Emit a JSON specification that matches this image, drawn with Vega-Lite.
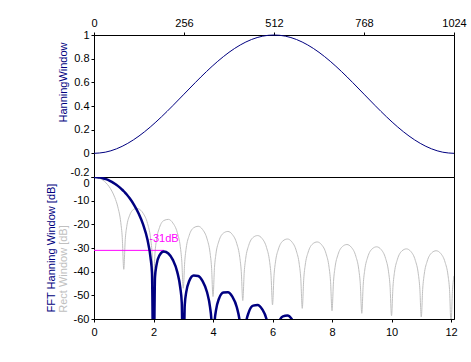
{
  "$schema": "https://vega.github.io/schema/vega-lite/v6.json",
  "padding": {"left": 44, "top": 16, "right": 5, "bottom": 5},
  "background": "white",
  "bounds": "flush",
  "spacing": 0,
  "config": {
    "locale": {"number": {"decimal": ".", "thousands": ",", "grouping": [3], "currency": ["$", ""], "minus": "-"}},
    "view": {"stroke": "black", "strokeWidth": 1},
    "axis": {"grid": false, "domainColor": "black", "tickColor": "black", "tickSize": 3, "labelColor": "black", "labelFont": "Liberation Sans", "labelFontSize": 11, "titleFont": "Liberation Sans", "titleFontSize": 11, "titleFontWeight": "normal", "labelPadding": 2}
  },
  "datasets": {
    "win": [
      {"n": 0, "w": 0}, {"n": 32, "w": 0.0096}, {"n": 64, "w": 0.0381}, {"n": 96, "w": 0.0843},
      {"n": 128, "w": 0.1464}, {"n": 160, "w": 0.2222}, {"n": 192, "w": 0.3087}, {"n": 224, "w": 0.4025},
      {"n": 256, "w": 0.5}, {"n": 288, "w": 0.5975}, {"n": 320, "w": 0.6913}, {"n": 352, "w": 0.7778},
      {"n": 384, "w": 0.8536}, {"n": 416, "w": 0.9157}, {"n": 448, "w": 0.9619}, {"n": 480, "w": 0.9904},
      {"n": 512, "w": 1}, {"n": 544, "w": 0.9904}, {"n": 576, "w": 0.9619}, {"n": 608, "w": 0.9157},
      {"n": 640, "w": 0.8536}, {"n": 672, "w": 0.7778}, {"n": 704, "w": 0.6913}, {"n": 736, "w": 0.5975},
      {"n": 768, "w": 0.5}, {"n": 800, "w": 0.4025}, {"n": 832, "w": 0.3087}, {"n": 864, "w": 0.2222},
      {"n": 896, "w": 0.1464}, {"n": 928, "w": 0.0843}, {"n": 960, "w": 0.0381}, {"n": 992, "w": 0.0096},
      {"n": 1024, "w": 0}
    ],
    "hann": [
      {"f": 0, "db": 0}, {"f": 0.1, "db": -0.06}, {"f": 0.2, "db": -0.22}, {"f": 0.3, "db": -0.51}, {"f": 0.4, "db": -0.91},
      {"f": 0.5, "db": -1.42}, {"f": 0.6, "db": -2.07}, {"f": 0.7, "db": -2.84}, {"f": 0.8, "db": -3.75}, {"f": 0.9, "db": -4.8},
      {"f": 0.95, "db": -5.39}, {"f": 1.0, "db": -6.02}, {"f": 1.05, "db": -6.69}, {"f": 1.1, "db": -7.41}, {"f": 1.2, "db": -9.01},
      {"f": 1.35, "db": -11.85}, {"f": 1.5, "db": -15.4}, {"f": 1.65, "db": -20.02}, {"f": 1.8, "db": -26.67}, {"f": 1.9, "db": -34.05},
      {"f": 1.95, "db": -40.8}, {"f": 2.0, "db": -90},
      {"f": 2.05, "db": -42.4}, {"f": 2.1, "db": -37.25}, {"f": 2.2, "db": -33.1}, {"f": 2.35, "db": -31.48}, {"f": 2.5, "db": -32.3},
      {"f": 2.65, "db": -35.01}, {"f": 2.8, "db": -40.2}, {"f": 2.9, "db": -46.79}, {"f": 2.95, "db": -53.18}, {"f": 3.0, "db": -90},
      {"f": 3.05, "db": -54.12}, {"f": 3.1, "db": -48.67}, {"f": 3.2, "db": -43.97}, {"f": 3.35, "db": -41.64}, {"f": 3.5, "db": -41.84},
      {"f": 3.65, "db": -44.0}, {"f": 3.8, "db": -48.72}, {"f": 3.9, "db": -55.01}, {"f": 3.95, "db": -61.28}, {"f": 4.0, "db": -90},
      {"f": 4.05, "db": -61.95}, {"f": 4.1, "db": -56.38}, {"f": 4.2, "db": -51.44}, {"f": 4.35, "db": -48.79}, {"f": 4.5, "db": -48.7},
      {"f": 4.65, "db": -50.58}, {"f": 4.8, "db": -55.04}, {"f": 4.9, "db": -61.19}, {"f": 4.95, "db": -67.37}, {"f": 5.0, "db": -90},
      {"f": 5.05, "db": -67.9}, {"f": 5.1, "db": -62.25}, {"f": 5.2, "db": -57.21}, {"f": 5.35, "db": -54.34}, {"f": 5.5, "db": -54.07},
      {"f": 5.65, "db": -55.8}, {"f": 5.8, "db": -60.11}, {"f": 5.9, "db": -66.14}, {"f": 5.95, "db": -72.27}, {"f": 6.0, "db": -90},
      {"f": 6.05, "db": -72.72}, {"f": 6.1, "db": -67.03}, {"f": 6.2, "db": -61.88}, {"f": 6.35, "db": -58.89}, {"f": 6.5, "db": -58.51},
      {"f": 6.65, "db": -60.11}, {"f": 6.8, "db": -64.32}, {"f": 6.9, "db": -70.29}, {"f": 7.0, "db": -90}
    ],
    "rect": [
      {"f": 0, "db": 0}, {"f": 0.1, "db": -0.14}, {"f": 0.2, "db": -0.58}, {"f": 0.3, "db": -1.33}, {"f": 0.4, "db": -2.42},
      {"f": 0.5, "db": -3.92}, {"f": 0.6, "db": -5.94}, {"f": 0.7, "db": -8.69}, {"f": 0.8, "db": -12.62}, {"f": 0.9, "db": -19.23},
      {"f": 0.95, "db": -25.61}, {"f": 1.0, "db": -39},
      {"f": 1.05, "db": -26.48}, {"f": 1.1, "db": -20.97}, {"f": 1.2, "db": -16.14}, {"f": 1.35, "db": -13.55}, {"f": 1.43, "db": -13.26},
      {"f": 1.5, "db": -13.46}, {"f": 1.65, "db": -15.3}, {"f": 1.8, "db": -19.66}, {"f": 1.9, "db": -25.72}, {"f": 1.95, "db": -31.85}, {"f": 2.0, "db": -45},
      {"f": 2.05, "db": -32.29}, {"f": 2.1, "db": -26.59}, {"f": 2.2, "db": -21.41}, {"f": 2.35, "db": -18.37}, {"f": 2.5, "db": -17.9},
      {"f": 2.65, "db": -19.41}, {"f": 2.8, "db": -23.5}, {"f": 2.9, "db": -29.39}, {"f": 2.95, "db": -35.45}, {"f": 3.0, "db": -47},
      {"f": 3.05, "db": -35.74}, {"f": 3.1, "db": -29.97}, {"f": 3.2, "db": -24.66}, {"f": 3.35, "db": -21.45}, {"f": 3.5, "db": -20.82},
      {"f": 3.65, "db": -22.19}, {"f": 3.8, "db": -26.15}, {"f": 3.9, "db": -31.96}, {"f": 3.95, "db": -37.99}, {"f": 4.0, "db": -50.5},
      {"f": 4.05, "db": -38.2}, {"f": 4.1, "db": -32.4}, {"f": 4.2, "db": -27.02}, {"f": 4.35, "db": -23.72}, {"f": 4.5, "db": -23.01},
      {"f": 4.65, "db": -24.29}, {"f": 4.8, "db": -28.18}, {"f": 4.9, "db": -33.95}, {"f": 4.95, "db": -39.95}, {"f": 5.0, "db": -52.2},
      {"f": 5.05, "db": -40.12}, {"f": 5.1, "db": -34.29}, {"f": 5.2, "db": -28.88}, {"f": 5.35, "db": -25.51}, {"f": 5.5, "db": -24.75},
      {"f": 5.65, "db": -25.99}, {"f": 5.8, "db": -29.83}, {"f": 5.9, "db": -35.56}, {"f": 5.95, "db": -41.54}, {"f": 6.0, "db": -54},
      {"f": 6.05, "db": -41.69}, {"f": 6.1, "db": -35.85}, {"f": 6.2, "db": -30.41}, {"f": 6.35, "db": -27.0}, {"f": 6.5, "db": -26.2},
      {"f": 6.65, "db": -27.4}, {"f": 6.8, "db": -31.21}, {"f": 6.9, "db": -36.92}, {"f": 6.95, "db": -42.89}, {"f": 7.0, "db": -55.5},
      {"f": 7.05, "db": -43.02}, {"f": 7.1, "db": -37.17}, {"f": 7.2, "db": -31.71}, {"f": 7.35, "db": -28.27}, {"f": 7.5, "db": -27.44},
      {"f": 7.65, "db": -28.62}, {"f": 7.8, "db": -32.4}, {"f": 7.9, "db": -38.1}, {"f": 7.95, "db": -44.06}, {"f": 8.0, "db": -56.5},
      {"f": 8.05, "db": -44.17}, {"f": 8.1, "db": -38.31}, {"f": 8.2, "db": -32.83}, {"f": 8.35, "db": -29.38}, {"f": 8.5, "db": -28.53},
      {"f": 8.65, "db": -29.69}, {"f": 8.8, "db": -33.45}, {"f": 8.9, "db": -39.13}, {"f": 8.95, "db": -45.09}, {"f": 9.0, "db": -57.6},
      {"f": 9.05, "db": -45.19}, {"f": 9.1, "db": -39.32}, {"f": 9.2, "db": -33.83}, {"f": 9.35, "db": -30.36}, {"f": 9.5, "db": -29.5},
      {"f": 9.65, "db": -30.64}, {"f": 9.8, "db": -34.38}, {"f": 9.9, "db": -40.06}, {"f": 9.95, "db": -46.01}, {"f": 10.0, "db": -58.6},
      {"f": 10.05, "db": -46.1}, {"f": 10.1, "db": -40.23}, {"f": 10.2, "db": -34.73}, {"f": 10.35, "db": -31.24}, {"f": 10.5, "db": -30.37},
      {"f": 10.65, "db": -31.49}, {"f": 10.8, "db": -35.23}, {"f": 10.9, "db": -40.89}, {"f": 10.95, "db": -46.84}, {"f": 11.0, "db": -59.1},
      {"f": 11.05, "db": -46.92}, {"f": 11.1, "db": -41.05}, {"f": 11.2, "db": -35.54}, {"f": 11.35, "db": -32.05}, {"f": 11.5, "db": -31.16},
      {"f": 11.65, "db": -32.27}, {"f": 11.8, "db": -36.0}, {"f": 11.9, "db": -41.65}, {"f": 11.95, "db": -47.6}, {"f": 12.0, "db": -62},
      {"f": 12.05, "db": -47.67}, {"f": 12.1, "db": -41.8}
    ],
    "ref": [
      {"f0": 0, "f1": 2.35, "db": -31, "label": "-31dB"}
    ]
  },
  "vconcat": [
    {
      "width": 360,
      "height": 142,
      "data": {"name": "win"},
      "mark": {"type": "line", "color": "#000080", "strokeWidth": 1, "interpolate": "monotone"},
      "encoding": {
        "x": {
          "field": "n", "type": "quantitative",
          "scale": {"domain": [0, 1024], "nice": false, "zero": false},
          "axis": {"orient": "top", "values": [0, 256, 512, 768, 1024], "format": "d", "title": null, "labelPadding": 4, "labelFlush": false}
        },
        "y": {
          "field": "w", "type": "quantitative",
          "scale": {"domain": [-0.2, 1], "nice": false, "zero": false},
          "axis": {
            "values": [-0.2, 0, 0.2, 0.4, 0.6, 0.8, 1], "format": "~g", "labelFlush": false,
            "title": "HanningWindow", "titleColor": "#000080", "titleX": -26, "titleY": 47,
            "titleAngle": 270, "titleAlign": "center", "titleBaseline": "bottom",
            "labelBaseline": {"condition": {"test": "datum.value == -0.2", "value": "bottom"}, "value": "middle"}
          }
        }
      }
    },
    {
      "width": 360,
      "height": 142,
      "layer": [
        {
          "data": {"name": "rect"},
          "mark": {"type": "line", "color": "#c0c0c0", "strokeWidth": 1, "interpolate": "monotone", "clip": true},
          "encoding": {
            "x": {
              "field": "f", "type": "quantitative",
              "scale": {"domain": [0, 12.1], "nice": false, "zero": false},
              "axis": {"values": [0, 1, 2, 3, 4, 5, 6, 7, 8, 9, 10, 11, 12], "format": "d", "title": null, "labelPadding": 4, "labelFlush": false}
            },
            "y": {
              "field": "db", "type": "quantitative",
              "scale": {"domain": [-60, 0], "nice": false, "zero": false},
              "axis": {
                "orient": "left", "labels": false, "ticks": false, "domain": false,
                "title": "Rect Window [dB]", "titleColor": "#c0c0c0", "titleX": -25.5, "titleY": 91.5,
                "titleAngle": 270, "titleAlign": "center", "titleBaseline": "bottom"
              }
            }
          }
        },
        {
          "data": {"name": "ref"},
          "mark": {"type": "rule", "color": "#ff00ff", "strokeWidth": 1},
          "encoding": {
            "x": {"field": "f0", "type": "quantitative"},
            "x2": {"field": "f1"},
            "y": {"field": "db", "type": "quantitative", "axis": null}
          }
        },
        {
          "data": {"name": "ref"},
          "mark": {"type": "text", "color": "#ff00ff", "fontSize": 11, "font": "Liberation Sans", "align": "center", "baseline": "middle", "dy": -11},
          "encoding": {
            "x": {"field": "f1", "type": "quantitative"},
            "y": {"field": "db", "type": "quantitative", "axis": null},
            "text": {"field": "label"}
          }
        },
        {
          "data": {"name": "hann"},
          "mark": {"type": "line", "color": "#000080", "strokeWidth": 2.5, "interpolate": "monotone", "clip": true},
          "encoding": {
            "x": {"field": "f", "type": "quantitative"},
            "y": {
              "field": "db", "type": "quantitative",
              "axis": {
                "orient": "left", "values": [0, -10, -20, -30, -40, -50, -60], "format": "d", "labelFlush": false,
                "title": "FFT Hanning Window [dB]", "titleColor": "#000080", "titleX": -38, "titleY": 70.5,
                "titleAngle": 270, "titleAlign": "center", "titleBaseline": "bottom",
                "labelBaseline": {"condition": {"test": "datum.value == 0", "value": "top"}, "value": "middle"}
              }
            }
          }
        }
      ],
      "resolve": {"axis": {"y": "independent"}}
    }
  ]
}
